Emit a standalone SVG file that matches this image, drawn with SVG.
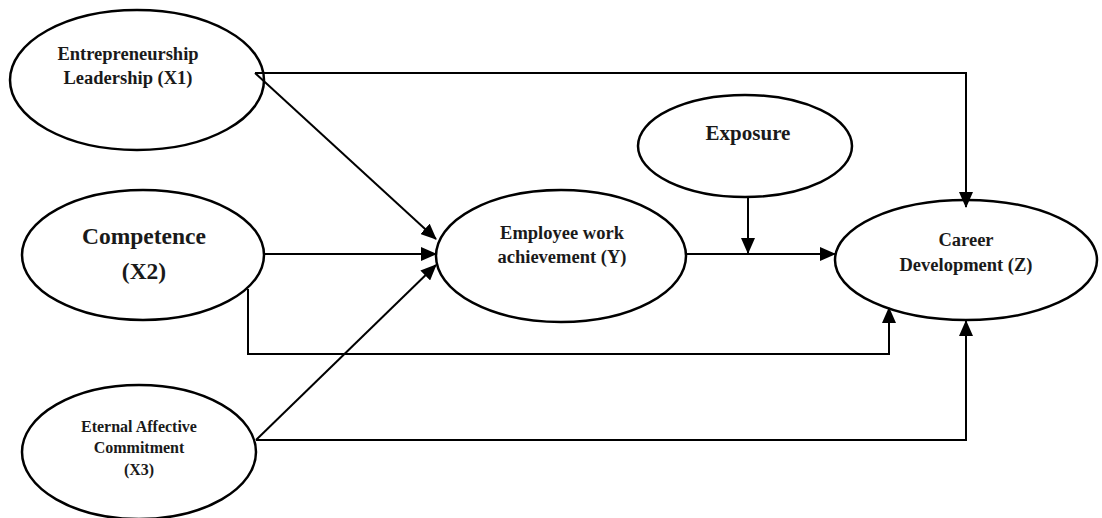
<svg xmlns="http://www.w3.org/2000/svg" width="1102" height="518" viewBox="0 0 1102 518">
<defs>
<marker id="arr" markerWidth="16" markerHeight="14" refX="15" refY="7" orient="auto" markerUnits="userSpaceOnUse">
<path d="M0,0 L16,7 L0,14 Z" fill="#000"/>
</marker>
<style>
.node ellipse{fill:#fff;stroke:#000;stroke-width:2.5}
.t{font-family:"Liberation Serif","Times New Roman",serif;font-weight:bold;fill:#1a1a1a;text-anchor:middle}
.c path{fill:none;stroke:#000;stroke-width:2;marker-end:url(#arr)}
</style>
</defs>
<rect width="1102" height="518" fill="#fff"/>
<g class="node" id="x1">
<ellipse cx="137" cy="80" rx="127" ry="70"/>
<text class="t" x="128" y="60" font-size="18.5">Entrepreneurship</text>
<text class="t" x="128" y="84" font-size="18.5">Leadership (X1)</text>
</g>
<g class="node" id="x2">
<ellipse cx="143" cy="255" rx="121" ry="65"/>
<text class="t" x="144" y="244" font-size="23.5">Competence</text>
<text class="t" x="144" y="279" font-size="23.5">(X2)</text>
</g>
<g class="node" id="x3">
<ellipse cx="139" cy="452" rx="117" ry="67"/>
<text class="t" x="139" y="432" font-size="16">Eternal Affective</text>
<text class="t" x="139" y="453" font-size="16">Commitment</text>
<text class="t" x="139" y="475" font-size="16">(X3)</text>
</g>
<g class="node" id="y">
<ellipse cx="561" cy="256" rx="125" ry="66"/>
<text class="t" x="562" y="239" font-size="18.5">Employee work</text>
<text class="t" x="562" y="263" font-size="18.5">achievement (Y)</text>
</g>
<g class="node" id="exposure">
<ellipse cx="745" cy="146" rx="107" ry="51"/>
<text class="t" x="748" y="140" font-size="21">Exposure</text>
</g>
<g class="node" id="z">
<ellipse cx="966" cy="260" rx="131" ry="60"/>
<text class="t" x="966" y="246" font-size="18.5">Career</text>
<text class="t" x="966" y="271" font-size="18.5">Development (Z)</text>
</g>
<g class="c" id="connectors">
<path d="M255,73 H966 V207"/>
<path d="M255,73 L436,239"/>
<path d="M265,254 H436"/>
<path d="M256,440 L436,265"/>
<path d="M687,254 H835"/>
<path d="M748,197 V253"/>
<path d="M248,289 V354 H889 V308"/>
<path d="M256,440 H966 V321"/>
</g>
</svg>
